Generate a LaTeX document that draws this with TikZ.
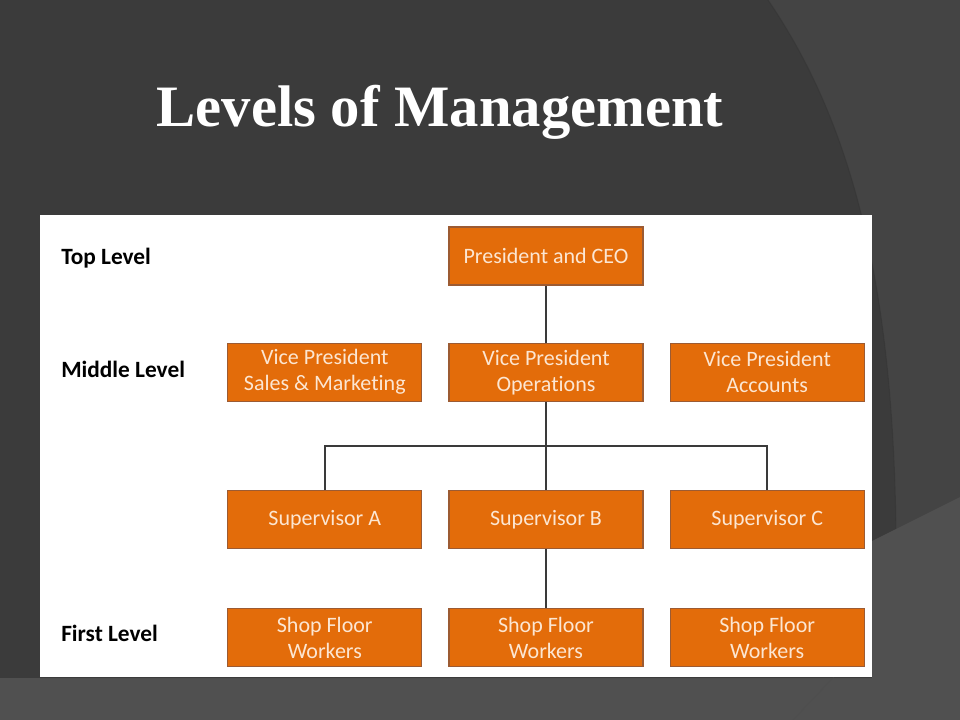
\documentclass[tikz,border=0pt]{standalone}
\usepackage{fontspec}
\setmainfont{Carlito}[Ligatures=NoCommon]
\newfontfamily\headfont{Liberation Serif}
\usetikzlibrary{positioning,calc}
\definecolor{slate}{HTML}{3B3B3B}
\definecolor{slatemid}{HTML}{444444}
\definecolor{slatelow}{HTML}{505050}
\definecolor{mgmtorange}{HTML}{E36C0A}
\definecolor{mgmtedge}{HTML}{9C5B33}
\definecolor{mgmttext}{HTML}{FCE6D2}
\definecolor{wire}{HTML}{3A3A3A}

\begin{document}
\begin{tikzpicture}[
  x=0.75pt, y=-0.75pt,
  font=\fontsize{16.5}{19.5}\selectfont,
  node distance=42.75pt and 19.5pt,
  role/.style={draw=mgmtedge, line width=0.9pt, fill=mgmtorange, text=mgmttext, align=center, minimum width=145.5pt, minimum height=43.5pt, inner sep=2pt},
  tier/.style={anchor=west, inner sep=0pt, font=\fontsize{17.5}{20}\selectfont\bfseries},
  link/.style={draw=wire, line width=1.3pt}
]
\useasboundingbox (0,0) rectangle (960,720);
\fill[slate] (0,0) rectangle (960,720);
\fill[slatemid] (768,0) .. controls (850,120) and (894,280) .. (896,540) -- (960,497) -- (960,0) -- cycle;
\draw[black!80, line width=0.8pt, opacity=0.5] (768,0) .. controls (850,120) and (894,280) .. (896,540);
\fill[slatelow] (0,678) -- (872,678) -- (872,541) -- (960,497) -- (960,720) -- (0,720) -- cycle;
\draw[black!70, line width=0.6pt, opacity=0.4] (793,720) -- (850,660);
\fill[white] (40,215) rectangle (872,677);
\draw[black!70, line width=1.2pt, opacity=0.5] (40,678.5) -- (872,678.5);

\node[text=white, anchor=base, font=\headfont\bfseries\fontsize{44}{50}\selectfont] (title) at (440,127) {Levels of Management};

\node[role] (ceo) at (546,256) {President and CEO};
\node[role, below=of ceo] (vpops) {Vice President\\Operations};
\node[role, left=of vpops] (vpsales) {Vice President\\Sales \& Marketing};
\node[role, right=of vpops] (vpacct) {Vice President\\Accounts};
\node[role, below=66pt of vpops] (supb) {Supervisor B};
\node[role, left=of supb] (supa) {Supervisor A};
\node[role, right=of supb] (supc) {Supervisor C};
\node[role, below=44.25pt of supb] (shopb) {Shop Floor\\Workers};
\node[role, left=of shopb] (shopa) {Shop Floor\\Workers};
\node[role, right=of shopb] (shopc) {Shop Floor\\Workers};

\node[tier] (lvtop) at (61,258) {Top Level};
\node[tier] (lvmid) at (61,369) {Middle Level};
\node[tier] (lvfirst) at (61,633) {First Level};

\coordinate (bus) at ($(vpops.south)!0.5!(supb.north)$);
\draw[link] (ceo) -- (vpops);
\draw[link] (vpops) -- (supb);
\draw[link] (supa.north) |- (bus) -| (supc.north);
\draw[link] (supb) -- (shopb);
\end{tikzpicture}
\end{document}
